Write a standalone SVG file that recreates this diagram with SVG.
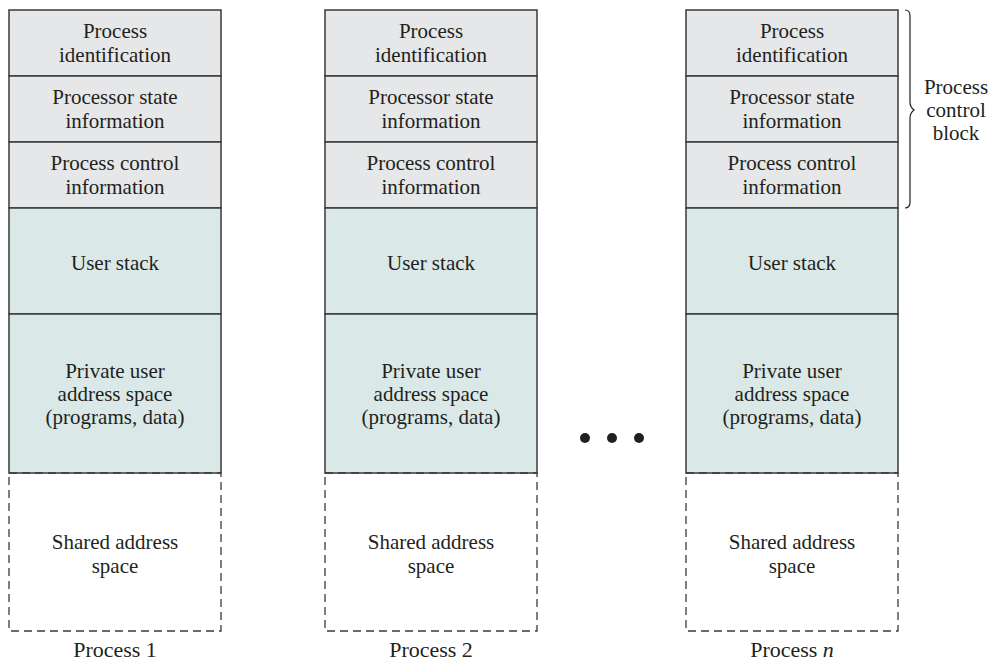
<svg xmlns="http://www.w3.org/2000/svg" width="993" height="661" viewBox="0 0 993 661">
<style>
text{font-family:"Liberation Serif","Times New Roman",serif;font-size:21px;fill:#231f20;text-anchor:middle}
.lbl{font-size:22px}
.pcb{fill:#e6e7e8;stroke:#3a3a3a;stroke-width:1.5}
.usr{fill:#dae8e7;stroke:#3a3a3a;stroke-width:1.5}
.shr{fill:none;stroke:#3a3a3a;stroke-width:1.3;stroke-dasharray:8,5}
</style>
<rect width="993" height="661" fill="#fff"/>
<defs>
<g id="col">
<rect class="pcb" x="0" y="10" width="212" height="66"/>
<rect class="pcb" x="0" y="76" width="212" height="66"/>
<rect class="pcb" x="0" y="142" width="212" height="66"/>
<rect class="usr" x="0" y="208" width="212" height="106"/>
<rect class="usr" x="0" y="314" width="212" height="159"/>
<rect class="shr" x="0" y="473" width="212" height="158"/>
<text x="106" y="38">Process</text>
<text x="106" y="62">identification</text>
<text x="106" y="104">Processor state</text>
<text x="106" y="128">information</text>
<text x="106" y="170">Process control</text>
<text x="106" y="194">information</text>
<text x="106" y="270">User stack</text>
<text x="106" y="378">Private user</text>
<text x="106" y="401">address space</text>
<text x="106" y="424">(programs, data)</text>
<text x="106" y="549">Shared address</text>
<text x="106" y="573">space</text>
</g>
</defs>
<g id="process1">
<use href="#col" x="9"/>
<text class="lbl" x="115" y="657">Process 1</text>
</g>
<g id="process2">
<use href="#col" x="325"/>
<text class="lbl" x="431" y="657">Process 2</text>
</g>
<g id="processn">
<use href="#col" x="686"/>
<text class="lbl" x="792" y="657">Process <tspan font-style="italic">n</tspan></text>
</g>
<g id="dots" fill="#231f20">
<circle cx="585" cy="438" r="5"/>
<circle cx="612" cy="438" r="5"/>
<circle cx="639" cy="438" r="5"/>
</g>
<g id="connectors">
<path d="M905,10 Q910,10 910,16 L910,102 Q910,107 914,110 Q910,113 910,118 L910,202 Q910,208 905,208" fill="none" stroke="#231f20" stroke-width="1.2"/>
</g>
<g id="pcb-label">
<text x="956" y="94">Process</text>
<text x="956" y="117">control</text>
<text x="956" y="140">block</text>
</g>
</svg>
